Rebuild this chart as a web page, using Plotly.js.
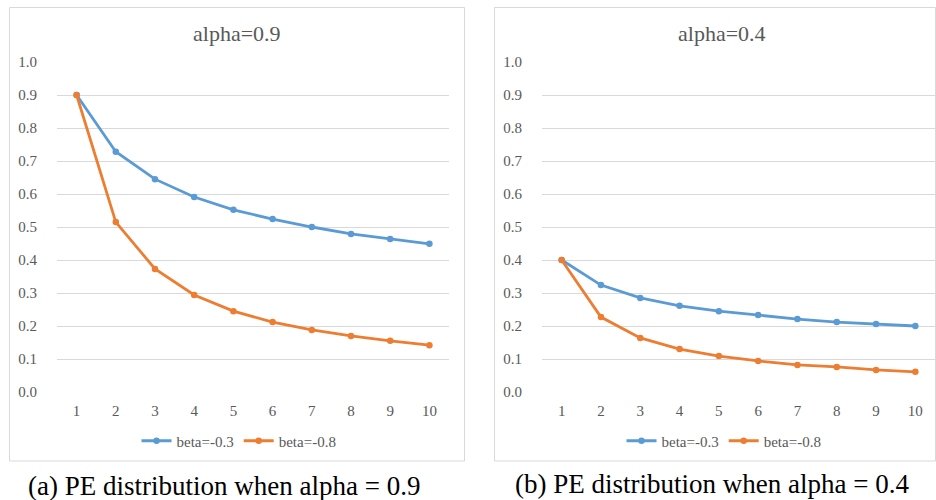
<!DOCTYPE html>
<html>
<head>
<meta charset="utf-8">
<script src="https://cdn.plot.ly/plotly-3.0.1.min.js"></script>
<style>html,body{margin:0;padding:0;background:#fff;}#chart{width:936px;height:500px;}</style>
</head>
<body>
<div id="chart"></div>
<script>
var xCats = [1, 2, 3, 4, 5, 6, 7, 8, 9, 10];
var seriesNames = ["beta=-0.3", "beta=-0.8"];
var alpha09_beta03 = [0.9, 0.728, 0.645, 0.591, 0.552, 0.524, 0.500, 0.479, 0.464, 0.449];
var alpha09_beta08 = [0.9, 0.515, 0.373, 0.294, 0.245, 0.212, 0.188, 0.170, 0.155, 0.142];
var alpha04_beta03 = [0.4, 0.324, 0.285, 0.261, 0.245, 0.233, 0.221, 0.212, 0.206, 0.200];
var alpha04_beta08 = [0.4, 0.227, 0.164, 0.130, 0.109, 0.094, 0.082, 0.076, 0.067, 0.061];
var panelTitles = ["alpha=0.9", "alpha=0.4"];
var captions = ["(a) PE distribution when alpha = 0.9", "(b) PE distribution when alpha = 0.4"];

var W = 936, H = 500;
function px(x){ return x / W; }
function py(y){ return 1 - y / H; }

var blue = "#5B9BD5", orange = "#ED7D31";
var serif = "Times New Roman, Liberation Serif, DejaVu Serif, serif";

function tr(y, name, color, xa, ya, leg) {
  return {
    x: xCats, y: y, name: name, type: "scatter", mode: "lines+markers",
    xaxis: xa, yaxis: ya, legend: leg,
    line: {color: color, width: 2.8},
    marker: {color: color, size: 6.5}
  };
}

var data = [
  tr(alpha09_beta03, seriesNames[0], blue, "x", "y", "legend"),
  tr(alpha09_beta08, seriesNames[1], orange, "x", "y", "legend"),
  tr(alpha04_beta03, seriesNames[0], blue, "x2", "y2", "legend2"),
  tr(alpha04_beta08, seriesNames[1], orange, "x2", "y2", "legend2")
];

function xax(d, anchor) {
  return {
    domain: d, anchor: anchor, type: "linear", range: [0.5, 10.5],
    tickmode: "array", tickvals: xCats, ticktext: xCats.map(String),
    showgrid: false, zeroline: false, showline: false, ticks: "",
    ticklabelstandoff: 8,
    tickfont: {family: serif, size: 15, color: "#595959"}, fixedrange: true
  };
}
function yax(anchor) {
  return {
    domain: [py(392), py(62)], anchor: anchor, range: [0, 1.0],
    dtick: 0.1, tick0: 0, tickformat: ".1f",
    showgrid: true, gridcolor: "#D9D9D9", gridwidth: 1,
    zeroline: false, showline: false, ticks: "",
    ticklabelstandoff: 19,
    tickfont: {family: serif, size: 15, color: "#595959"}, fixedrange: true
  };
}

var legFont = {family: serif, size: 15, color: "#595959"};
var layout = {
  width: W, height: H,
  font: {family: serif},
  margin: {l: 0, r: 0, t: 0, b: 0},
  paper_bgcolor: "#fff", plot_bgcolor: "#fff",
  xaxis: xax([px(57), px(449)], "y"),
  yaxis: yax("x"),
  xaxis2: xax([px(542), px(935)], "y2"),
  yaxis2: yax("x2"),
  legend: {orientation: "h", x: px(239), xanchor: "center", y: py(441), yanchor: "middle",
           font: legFont, bgcolor: "rgba(0,0,0,0)", itemwidth: 30, traceorder: "normal"},
  legend2: {orientation: "h", x: px(724), xanchor: "center", y: py(441), yanchor: "middle",
           font: legFont, bgcolor: "rgba(0,0,0,0)", itemwidth: 30, traceorder: "normal"},
  shapes: [
    {type: "rect", xref: "paper", yref: "paper", x0: px(9.5), x1: px(464.5), y0: py(461), y1: py(7.5),
     line: {color: "#D9D9D9", width: 1}, fillcolor: "rgba(0,0,0,0)"},
    {type: "rect", xref: "paper", yref: "paper", x0: px(494.5), x1: px(935.5), y0: py(461), y1: py(7.5),
     line: {color: "#D9D9D9", width: 1}, fillcolor: "rgba(0,0,0,0)"}
  ],
  annotations: [
    {text: panelTitles[0], xref: "paper", yref: "paper", x: px(237), y: py(33), xanchor: "center", yanchor: "middle",
     showarrow: false, font: {family: serif, size: 22, color: "#595959"}},
    {text: panelTitles[1], xref: "paper", yref: "paper", x: px(722), y: py(33), xanchor: "center", yanchor: "middle",
     showarrow: false, font: {family: serif, size: 22, color: "#595959"}},
    {text: captions[0], xref: "paper", yref: "paper", x: px(224), y: py(486), xanchor: "center", yanchor: "middle",
     showarrow: false, font: {family: serif, size: 27, color: "#000"}},
    {text: captions[1], xref: "paper", yref: "paper", x: px(712), y: py(484), xanchor: "center", yanchor: "middle",
     showarrow: false, font: {family: serif, size: 27, color: "#000"}}
  ]
};

Plotly.newPlot("chart", data, layout, {displayModeBar: false, staticPlot: true});
</script>
</body>
</html>
